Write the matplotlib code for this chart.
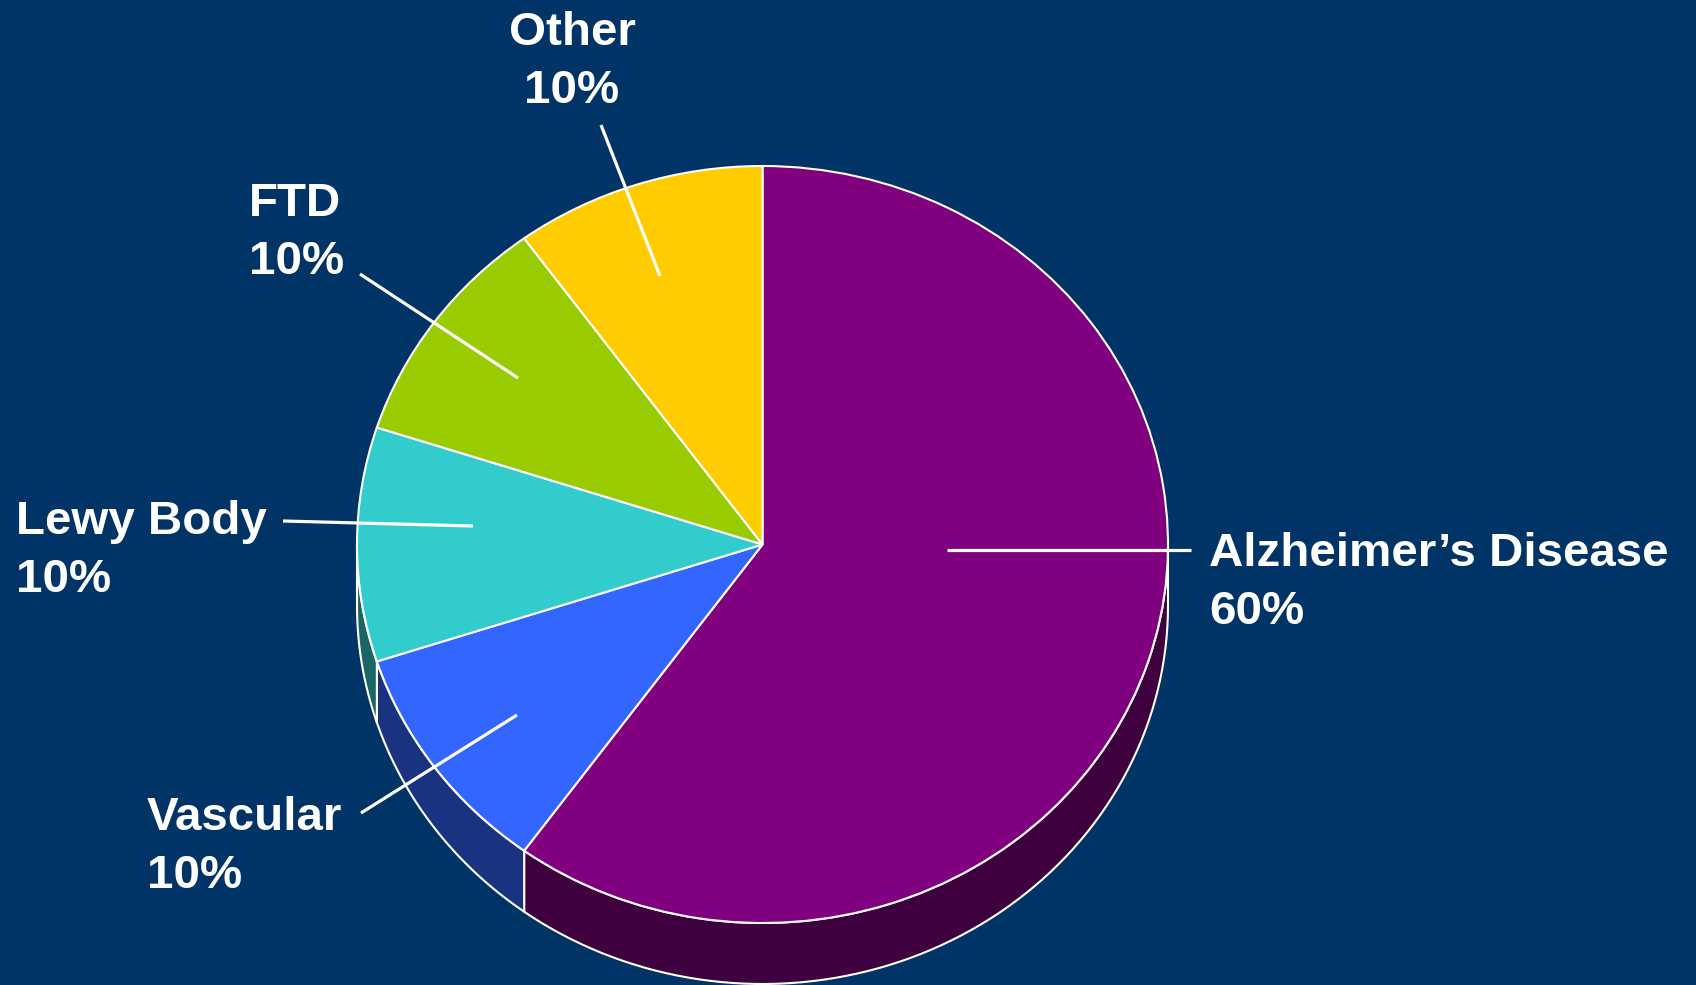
import numpy as np
import matplotlib
matplotlib.use("Agg")
import matplotlib.pyplot as plt
from matplotlib.patches import Polygon

plt.rcParams['font.family'] = ['Liberation Sans', 'DejaVu Sans']

# dementia causes, clockwise from 12 o'clock
names = ["Alzheimer’s Disease", "Vascular", "Lewy Body", "FTD", "Other"]
shares = [60, 10, 10, 10, 10]
top_colors = ["#800080", "#3366FF", "#33CCCC", "#99CC00", "#FFCC00"]
side_colors = ["#3F003F", "#1A3380", "#1A6666", "#4D6600", "#806600"]

W, H = 1696, 985
bg = "#003366"

# ellipse of the top face (pixels, y down) and thickness of the rim
cx, cy = 762.5, 544.5
rx, ry = 405.5, 378.5
depth = 61

fig = plt.figure(figsize=(W / 100, H / 100), dpi=100, facecolor=bg)

pie_ax = fig.add_axes([(cx - rx) / W, 1 - (cy + ry) / H, 2 * rx / W, 2 * ry / H])
wedges, _ = pie_ax.pie(shares, colors=top_colors, startangle=90, counterclock=False,
                       radius=1, wedgeprops=dict(edgecolor="white", linewidth=1.5))
pie_ax.set_aspect("auto")
pie_ax.set_xlim(-1, 1)
pie_ax.set_ylim(-1, 1)
pie_ax.axis("off")

# rim of the disc: only the front half (180..360 deg) shows
d = depth / ry
for w, c in zip(wedges, side_colors):
    for k in (-360, 0, 360):
        lo = max(w.theta1, -180 + k)
        hi = min(w.theta2, 0 + k)
        if lo >= hi:
            continue
        t = np.radians(np.linspace(lo, hi, 80))
        xs, ys = np.cos(t), np.sin(t)
        pts = np.concatenate([np.column_stack([xs, ys]),
                              np.column_stack([xs[::-1], ys[::-1] - d])])
        pie_ax.add_patch(Polygon(pts, closed=True, facecolor=c, edgecolor="white",
                                 linewidth=1.5, zorder=0.5, clip_on=False))

# labels and leader lines in pixel space
ax = fig.add_axes([0, 0, 1, 1])
ax.set_xlim(0, W)
ax.set_ylim(H, 0)
ax.axis("off")
ax.patch.set_alpha(0)

label_pos = [(1209, 566, "left"), (147, 830, "left"), (16, 534, "left"),
             (249, 216, "left"), (572, 45, "center")]
leaders = [((947, 550), (1191, 550)),
           ((361, 813), (517, 715)),
           ((283, 521), (473, 526)),
           ((360, 274), (518, 378)),
           ((601, 125), (660, 276))]

for name, v, (x, y, ha), (p0, p1) in zip(names, shares, label_pos, leaders):
    ax.plot([p0[0], p1[0]], [p0[1], p1[1]], color="white", lw=2.3,
            solid_capstyle="butt")
    ax.text(x, y, name, color="white", fontsize=34.2, fontweight="bold",
            ha=ha, va="baseline")
    ax.text(x, y + 58, f"{v}%", color="white", fontsize=34.2, fontweight="bold",
            ha=ha, va="baseline")

fig.savefig("out.png", dpi=100, facecolor=bg)
